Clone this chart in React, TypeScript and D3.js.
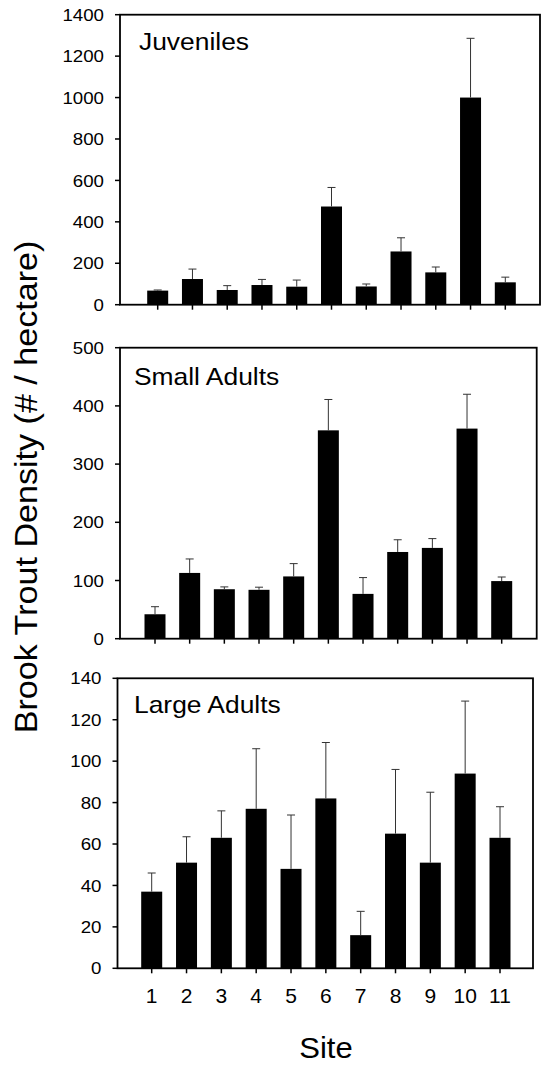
import React from "react";
import * as d3 from "d3";

// ---- data ----
const sites = ["1", "2", "3", "4", "5", "6", "7", "8", "9", "10", "11"];

const juvenileMeans = [68, 124, 71, 95, 87, 474, 88, 257, 156, 1000, 108];
const juvenileSE = [3, 48, 21, 27, 32, 92, 12, 66, 26, 286, 25];

const smallAdultMeans = [42, 113, 85, 84, 107, 358, 77, 149, 156, 361, 99];
const smallAdultSE = [13, 24, 4, 4.5, 22, 53, 28, 21, 16, 59, 7];

const largeAdultMeans = [37, 51, 63, 77, 48, 82, 16, 65, 51, 94, 63];
const largeAdultSE = [9, 12.5, 13, 29, 26, 27, 11.5, 31, 34, 35, 15];

const juvenileTicks = [0, 200, 400, 600, 800, 1000, 1200, 1400];
const smallAdultTicks = [0, 100, 200, 300, 400, 500];
const largeAdultTicks = [0, 20, 40, 60, 80, 100, 120, 140];

const panelTitles = ["Juveniles", "Small Adults", "Large Adults"];
const yAxisTitle = "Brook Trout Density (# / hectare)";
const xAxisTitle = "Site";

// ---- layout / style ----
const W = 542;
const H = 1065;
const FONT = "'Liberation Sans', Arial, Helvetica, sans-serif";
const SX = 1.1;

const layouts = [
  { left: 120, right: 540, top: 14.7, bottom: 304.7, first: 157.7, last: 505.3, titleX: 139, titleY: 50, showX: false },
  { left: 120, right: 536.7, top: 347.7, bottom: 638.7, first: 155, last: 501.7, titleX: 134, titleY: 385, showX: false },
  { left: 117.5, right: 533, top: 678.3, bottom: 968.3, first: 151.7, last: 500, titleX: 134, titleY: 713, showX: true },
];

const panels = [
  { title: panelTitles[0], means: juvenileMeans, se: juvenileSE, ticks: juvenileTicks },
  { title: panelTitles[1], means: smallAdultMeans, se: smallAdultSE, ticks: smallAdultTicks },
  { title: panelTitles[2], means: largeAdultMeans, se: largeAdultSE, ticks: largeAdultTicks },
];

function Panel({ panel, layout }: { panel: any; layout: any }) {
  const ymax = panel.ticks[panel.ticks.length - 1];
  const y = d3.scaleLinear().domain([0, ymax]).range([layout.bottom, layout.top]);
  const x = d3.scalePoint<string>().domain(sites).range([layout.first, layout.last]);
  const barW = 21;
  const cap = 4;
  return (
    <g>
      {sites.map((s, i) => {
        const cx = x(s) as number;
        const m = panel.means[i];
        return (
          <rect key={"b" + s} x={cx - barW / 2} y={y(m)} width={barW} height={y(0) - y(m)} fill="#000" />
        );
      })}
      {sites.map((s, i) => {
        const cx = x(s) as number;
        const m = panel.means[i];
        const hi = m + panel.se[i];
        return (
          <g key={"e" + s} stroke="#333" strokeWidth={1}>
            <line x1={cx} x2={cx} y1={y(m)} y2={y(hi)} />
            <line x1={cx - cap} x2={cx + cap} y1={y(hi)} y2={y(hi)} />
          </g>
        );
      })}
      <rect
        x={layout.left}
        y={layout.top}
        width={layout.right - layout.left}
        height={layout.bottom - layout.top}
        fill="none"
        stroke="#000"
        strokeWidth={1.8}
      />
      {panel.ticks.map((t: number) => (
        <g key={"yt" + t}>
          <line x1={layout.left - 5} x2={layout.left} y1={y(t)} y2={y(t)} stroke="#000" strokeWidth={1.5} />
          <text
            transform={`translate(${layout.left - 16},${y(t)}) scale(${SX},1)`}
            textAnchor="end"
            dy="0.36em"
            fontFamily={FONT}
            fontSize={17}
            fill="#000"
          >
            {t}
          </text>
        </g>
      ))}
      {sites.map((s) => (
        <line
          key={"xt" + s}
          x1={x(s)}
          x2={x(s)}
          y1={layout.bottom}
          y2={layout.bottom + 5}
          stroke="#000"
          strokeWidth={1.5}
        />
      ))}
      {layout.showX &&
        sites.map((s) => (
          <text
            key={"xl" + s}
            transform={`translate(${x(s)},${layout.bottom + 35}) scale(1.05,1)`}
            textAnchor="middle"
            fontFamily={FONT}
            fontSize={20}
            fill="#000"
          >
            {s}
          </text>
        ))}
      <text
        transform={`translate(${layout.titleX},${layout.titleY}) scale(${SX},1)`}
        fontFamily={FONT}
        fontSize={24}
        fill="#000"
      >
        {panel.title}
      </text>
    </g>
  );
}

export default function App() {
  return (
    <svg
      width={W}
      height={H}
      viewBox={`0 0 ${W} ${H}`}
      style={{ position: "absolute", left: 0, top: 0, display: "block", background: "#fff" }}
    >
      <rect x={0} y={0} width={W} height={H} fill="#fff" />
      {panels.map((p, i) => (
        <Panel key={p.title} panel={p} layout={layouts[i]} />
      ))}
      <text
        transform={`translate(37,487) rotate(-90) scale(${SX},1)`}
        textAnchor="middle"
        fontFamily={FONT}
        fontSize={31}
        fill="#000"
      >
        {yAxisTitle}
      </text>
      <text
        transform={`translate(326,1058) scale(1.07,1)`}
        textAnchor="middle"
        fontFamily={FONT}
        fontSize={29}
        fill="#000"
      >
        {xAxisTitle}
      </text>
    </svg>
  );
}
